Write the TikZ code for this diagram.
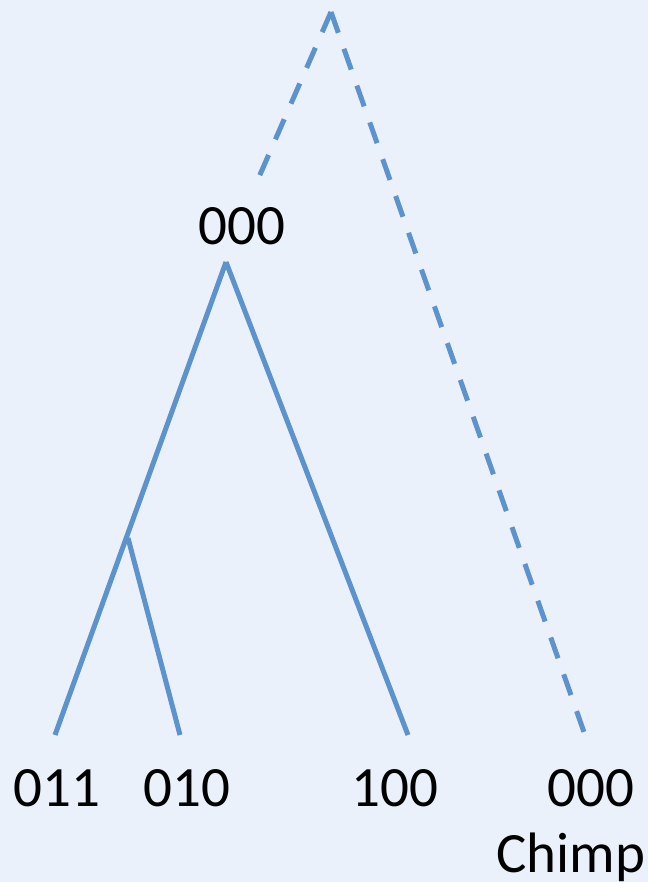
\documentclass[tikz,border=0pt]{standalone}
\usepackage{fontspec}
\setmainfont{Carlito}
\definecolor{bgc}{RGB}{235,241,250}
\definecolor{linec}{RGB}{92,147,204}
\begin{document}
\begin{tikzpicture}[x=1pt,y=-1pt,
  branch/.style={draw=linec,line width=5pt},
  dashbranch/.style={draw=linec,line width=5pt,dash pattern=on 22pt off 17pt},
  lbl/.style={anchor=base,inner sep=0pt,font=\fontsize{57}{68}\selectfont}]
\fill[bgc] (0,0) rectangle (648,882);
\useasboundingbox (0,0) rectangle (648,882);
% vertices
\coordinate (top) at (331,12);
\coordinate (topl) at (259,177);
\coordinate (root) at (226,262);
\coordinate (inner) at (128,538);
\coordinate (l1) at (55,735);
\coordinate (l2) at (180,735);
\coordinate (l3) at (408,735);
\coordinate (l4) at (585,735);
% branches
\draw[dashbranch] (top) -- (topl);
\draw[dashbranch] (top) -- (l4);
\draw[branch] (root) -- (l1);
\draw[branch] (inner) -- (l2);
\draw[branch] (root) -- (l3);
% labels
\node[lbl] (troot) at (242,245) {000};
\node[lbl] (t1) at (57,806) {011};
\node[lbl] (t2) at (187,806) {010};
\node[lbl] (t3) at (395,806) {100};
\node[lbl] (t4) at (591,806) {000};
\node[lbl] (t5) at (571,872) {Chimp};
\end{tikzpicture}
\end{document}
